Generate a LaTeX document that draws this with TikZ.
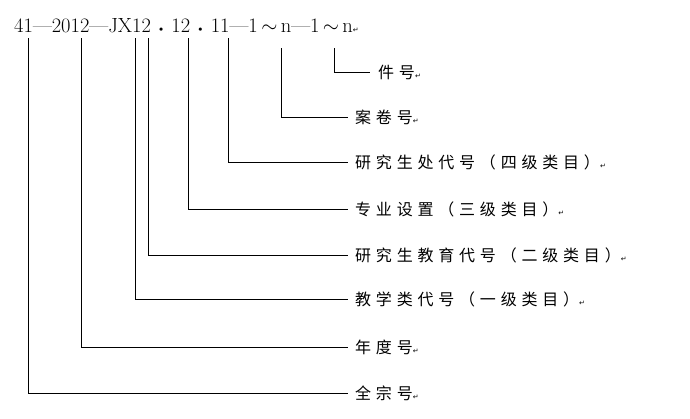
\documentclass[tikz,border=0pt]{standalone}
\usepackage{fontspec}
\newfontfamily\cjk[LetterSpace=30]{Noto Sans CJK SC}
\newfontfamily\symb{DejaVu Sans}
\newcommand{\pmark}{{\symb\fontsize{7}{7}\selectfont ↵}}
\begin{document}
\begin{tikzpicture}[x=1pt,y=-1pt]
	\tikzset{lbl/.style={anchor=west,inner sep=0pt,font=\cjk\fontsize{16}{16}\selectfont}}
	\useasboundingbox (0,0) rectangle (690,418);
	% code string
	\node[anchor=west,inner sep=0pt,font=\fontsize{20.5}{20.5}\selectfont] (code) at (14,26)
		{41---2012---JX12\;{\fontsize{12}{12}\selectfont\textbullet}\;12\;{\fontsize{12}{12}\selectfont\textbullet}\;11---1\,$\sim$\,n---1\,$\sim$\,n\pmark};
	% labels
	\foreach \y/\name/\txt in {117/anjuan/案卷号,162/yjs/研究生处代号（四级类目）,
		209/zy/专业设置（三级类目）,255/jy/研究生教育代号（二级类目）,299/jx/教学类代号（一级类目）,
		347/nd/年度号,393/qz/全宗号}
		\node[lbl] (\name) at (355,\y) {\txt\pmark};
	\node[lbl] (jian) at (378,72) {件号\pmark};
	% leaders
	\foreach \x/\ty/\name in {28/38/qz,81/38/nd,135/38/jx,148/38/jy,188/38/zy,228/38/yjs,281/48/anjuan}
		{
			\coordinate (top\name) at (\x,\ty);
			\draw (top\name) |- ([xshift=-7pt]\name.west);
		}
	\coordinate (topjian) at (334,48);
	\draw (topjian) |- ([xshift=-8pt]jian.west);
\end{tikzpicture}
\end{document}
